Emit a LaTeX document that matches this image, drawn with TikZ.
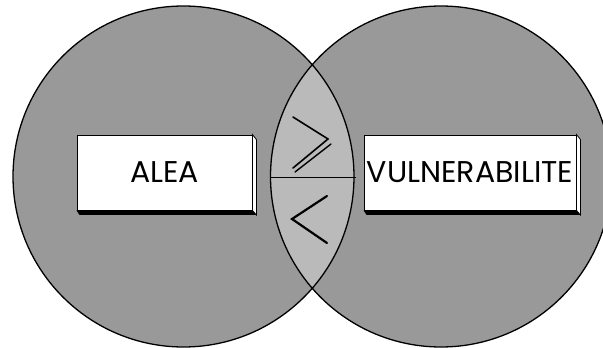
\documentclass[tikz,border=0pt]{standalone}
\usepackage{fontspec}
\setmainfont{Poppins}
\begin{document}
\begin{tikzpicture}[x=1pt,y=-1pt,
  circ/.style={draw=black,line width=1.3pt},
  labelbox/.style={draw=black,line width=0.9pt,fill=white,rectangle,inner sep=0pt,
    font=\fontsize{30}{33}\selectfont},
  sym/.style={draw=black,line width=1.6pt,line cap=round,line join=miter}]
\useasboundingbox (0,0) rectangle (603,348);
\begin{scope}
\clip (0,0) rectangle (603,348);
\coordinate (cl) at (183.5,176.5);
\coordinate (cr) at (441,176.5);
\fill[black!40] (cl) circle (170.5);
\fill[black!40] (cr) circle (170.5);
\begin{scope}
\clip (cl) circle (170.5);
\fill[black!27] (cr) circle (170.5);
\end{scope}
\draw[circ] (cl) circle (170.5);
\draw[circ] (cr) circle (170.5);
\end{scope}
% horizontal divider inside lens
\coordinate (hl) at (271,177);
\coordinate (hr) at (356,177);
\draw[line width=0.9pt] (hl) -- (hr);
% boxes
\node[labelbox,minimum width=175,minimum height=75] (alea) at (164.5,172.5) {ALEA};
\node[labelbox,minimum width=212,minimum height=75] (vuln) at (470,172.5) {VULNERABILITE};
\foreach \b in {alea,vuln}{
  \fill[black] (\b.south west) -- ++(3,4.5) -| ([xshift=4pt]\b.south east) -- (\b.south east) -- cycle;
  \filldraw[fill=white,draw=black,line width=0.8pt] (\b.north east) -- ++(4,5) -- ([xshift=4pt,yshift=-4.5pt]\b.south east) -- (\b.south east) -- cycle;
}
% symbols
\coordinate (g1) at (293,117);
\coordinate (g2) at (328,139);
\coordinate (g3) at (293,168);
\coordinate (g4) at (331,144);
\coordinate (g5) at (295,172);
\draw[sym,line width=1.6pt] (g1) -- (g2) -- (g3);
\draw[sym,line width=1.4pt] (g4) -- (g5);
\coordinate (l1) at (327,196);
\coordinate (l2) at (292,219);
\coordinate (l3) at (327,243);
\draw[sym,line width=2.2pt] (l1) -- (l2) -- (l3);
\end{tikzpicture}
\end{document}
